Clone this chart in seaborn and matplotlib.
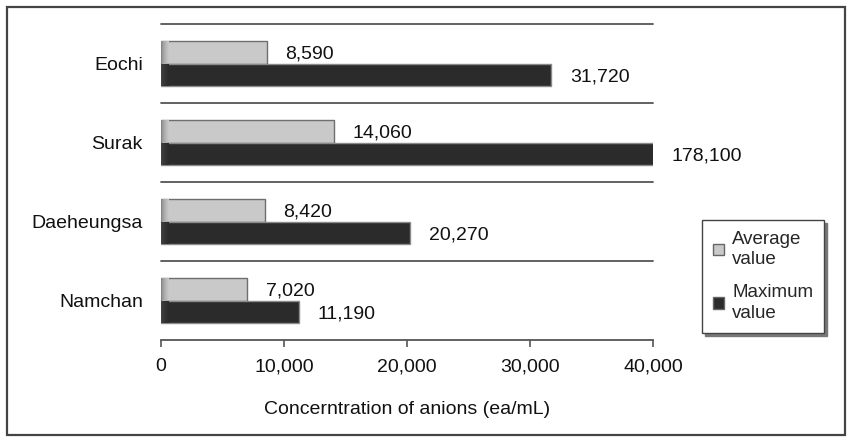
import numpy as np
import pandas as pd
import matplotlib
matplotlib.use("Agg")
import matplotlib.pyplot as plt
from matplotlib.patches import Rectangle
from matplotlib.colors import LinearSegmentedColormap
import seaborn as sns

# Anion concentration per site (ea/mL)
sites = ["Eochi", "Surak", "Daeheungsa", "Namchan"]
average_values = [8590, 14060, 8420, 7020]
maximum_values = [31720, 178100, 20270, 11190]
series_names = ["Average\nvalue", "Maximum\nvalue"]
x_ticks = [0, 10000, 20000, 30000, 40000]
x_label = "Concerntration of anions (ea/mL)"

df = pd.DataFrame({
    "site": sites * 2,
    "series": [series_names[0]] * len(sites) + [series_names[1]] * len(sites),
    "value": average_values + maximum_values,
})

sns.set_theme(style="white")
plt.rcParams["font.family"] = ["Liberation Sans", "DejaVu Sans"]
FS = 14

fill_colors = {series_names[0]: "#c9c9c9", series_names[1]: "#2b2b2b"}
edge_colors = {series_names[0]: "#6e6e6e", series_names[1]: "#8a8a8a"}
shade_colors = {series_names[0]: "#737373", series_names[1]: "#4a4a4a"}

fig = plt.figure(figsize=(8.47, 4.37), dpi=100)
ax = fig.add_axes([161 / 847, 1 - 340 / 437, (653 - 161) / 847, (340 - 24) / 437])

sns.barplot(data=df, y="site", x="value", hue="series", order=sites,
            hue_order=series_names, palette=fill_colors, orient="h",
            width=0.57, dodge=True, saturation=1, ax=ax, legend=True)

ax.set_xlim(x_ticks[0], x_ticks[-1])
ax.set_ylim(len(sites) - 0.5, -0.5)

# edge colours and a soft shading on the left end of each bar
n = len(sites)
ppx = (x_ticks[-1] - x_ticks[0]) / 492.0
for i, patch in enumerate(ax.patches[:2 * n]):
    s = series_names[i // n]
    patch.set_edgecolor(edge_colors[s])
    patch.set_linewidth(1.0)
    x0, y0, w, h = patch.get_x(), patch.get_y(), patch.get_width(), patch.get_height()
    cmap = LinearSegmentedColormap.from_list("shade", [shade_colors[s], fill_colors[s]])
    grad = np.sqrt(np.linspace(0, 1, 128)).reshape(1, -1)
    im = ax.imshow(grad, cmap=cmap, aspect="auto", interpolation="bilinear",
                   extent=[x0, x0 + 8 * ppx, y0 + h, y0], zorder=patch.get_zorder() + 0.5)
    im.set_clip_path(patch)

ax.set_xlim(x_ticks[0], x_ticks[-1])
ax.set_ylim(len(sites) - 0.5, -0.5)

# value labels next to the bar ends
xmax = x_ticks[-1]
for i, patch in enumerate(ax.patches[:2 * n]):
    vals = average_values if i < n else maximum_values
    v = vals[i % n]
    yc = patch.get_y() + patch.get_height() / 2
    ax.annotate(f"{v:,}", xy=(min(v, xmax), yc), xytext=(13.5, -1 if i < n else -1.5),
                textcoords="offset points", ha="left", va="center",
                fontsize=FS, color="#111111", annotation_clip=False)

# separators between sites
for y in np.arange(-0.5, len(sites) - 0.5, 1.0):
    ax.axhline(y, color="#555555", lw=1.3, zorder=0.5, clip_on=False)

for side in ["top", "right", "left"]:
    ax.spines[side].set_visible(False)
ax.spines["bottom"].set_color("#555555")
ax.spines["bottom"].set_linewidth(1.3)

ax.set_xticks(x_ticks)
ax.set_xticklabels([f"{t:,}" for t in x_ticks])
ax.tick_params(axis="x", direction="out", length=5, width=1.2, color="#555555",
               pad=8, labelsize=FS, labelcolor="#111111", bottom=True)
ax.tick_params(axis="y", length=0, pad=13, labelsize=FS, labelcolor="#111111")
ax.set_ylabel("")
ax.set_xlabel(x_label, fontsize=FS, color="#111111", labelpad=19)

handles, labels = ax.get_legend_handles_labels()
ax.get_legend().remove()
leg = fig.legend(handles, labels, loc="upper left",
                 bbox_to_anchor=(702 / 847, 1 - 220 / 437), frameon=True,
                 fancybox=False, shadow={"color": "#777777", "alpha": 1},
                 edgecolor="#444444", fontsize=13.5, handlelength=0.55,
                 handleheight=0.55, handletextpad=0.45, labelspacing=0.85,
                 borderpad=0.6, borderaxespad=0)
leg.get_frame().set_linewidth(1.0)
for t in leg.get_texts():
    t.set_linespacing(1.25)
for h in leg.legend_handles:
    h.set_edgecolor("#666666")

# outer frame
fig.patches.append(Rectangle((7 / 847, 2 / 437), (845 - 7) / 847, (435 - 7) / 437,
                             transform=fig.transFigure, fill=False,
                             edgecolor="#444444", lw=1.6))

fig.savefig("out.png", dpi=100)
